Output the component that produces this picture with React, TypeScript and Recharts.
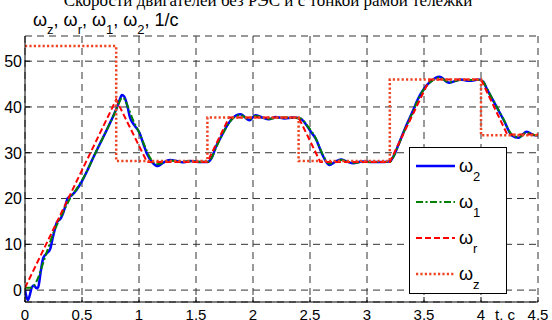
import React from 'react';
import { LineChart, Line, XAxis, YAxis, CartesianGrid, Legend } from 'recharts';

// ---- data ----
const xTicks = [0, 0.5, 1, 1.5, 2, 2.5, 3, 3.5, 4, 4.5];
const xTickLabels = ['0', '0.5', '1', '1.5', '2', '2.5', '3', '3.5', '4', '4.5'];
const yTicks = [0, 10, 20, 30, 40, 50];

// ω2 (motor 2 speed) [t, value]
const omega2: number[][] = [
  [0, 0], [0.013, -1.5], [0.026, -2.2], [0.045, -0.8], [0.06, 0.6], [0.08, 1.0], [0.1, 0.4], [0.115, 0.6],
  [0.14, 4.4], [0.16, 7.0], [0.19, 8.0], [0.22, 8.9], [0.245, 11.6], [0.28, 14.8], [0.315, 15.7], [0.34, 17.2],
  [0.376, 20.1], [0.41, 20.7], [0.45, 21.8], [0.5, 23.8], [0.55, 26.3], [0.6, 29], [0.65, 31.6], [0.7, 34.1],
  [0.75, 36.7], [0.8, 39.5], [0.83, 41.5], [0.85, 42.6], [0.87, 42.3], [0.9, 40], [0.92, 37.8], [0.96, 36],
  [1.005, 34.3], [1.04, 31.8], [1.075, 29.5], [1.12, 27.8], [1.165, 27.1], [1.21, 27.8], [1.27, 28.4],
  [1.33, 28.2], [1.38, 27.9], [1.45, 28.2], [1.52, 28], [1.6, 28], [1.64, 29], [1.675, 31.3], [1.72, 33.5],
  [1.76, 35.4], [1.82, 37.5], [1.89, 38.4], [1.97, 37.1], [2.02, 38.2], [2.08, 37.7], [2.14, 37.3], [2.2, 37.8],
  [2.28, 37.5], [2.35, 37.7], [2.42, 37.4], [2.47, 36], [2.51, 34.5], [2.55, 33.1], [2.61, 29.5], [2.67, 27.3],
  [2.72, 28], [2.77, 28.5], [2.83, 28], [2.88, 27.7], [2.95, 28.1], [3.05, 28], [3.15, 28], [3.2, 28.1],
  [3.23, 29.1], [3.28, 32], [3.34, 35.7], [3.4, 39], [3.45, 41.9], [3.5, 44], [3.555, 45.5], [3.635, 46.6],
  [3.72, 45.3], [3.82, 46], [3.9, 45.7], [3.98, 46], [4.02, 45.5], [4.05, 44], [4.12, 40.8], [4.2, 37.1],
  [4.27, 33.8], [4.33, 33.3], [4.4, 34.6], [4.47, 33.8], [4.5, 33.8],
];

// ω1 (motor 1 speed)
const omega1: number[][] = [
  [0, 0.5], [0.05, 0.5], [0.08, 1.0], [0.12, 3.0], [0.16, 6.0], [0.2, 9.0], [0.25, 12.5], [0.3, 15.3],
  [0.35, 17.8], [0.4, 20.2], [0.45, 22], [0.5, 24], [0.55, 26.3], [0.6, 29], [0.65, 31.6], [0.7, 34.1],
  [0.75, 36.7], [0.8, 39.4], [0.83, 41.2], [0.85, 42.0], [0.87, 41.8], [0.9, 40.2], [0.95, 37.0], [1.0, 34.5],
  [1.05, 31.5], [1.1, 28.8], [1.15, 27.5], [1.2, 27.7], [1.27, 28.3], [1.35, 28.1], [1.45, 28.1], [1.6, 28],
  [1.64, 29], [1.68, 31.3], [1.72, 33.4], [1.76, 35.3], [1.82, 37.4], [1.89, 38.2], [1.97, 37.3], [2.02, 38],
  [2.14, 37.4], [2.25, 37.7], [2.42, 37.5], [2.47, 36.1], [2.55, 33.2], [2.61, 29.7], [2.67, 27.6],
  [2.77, 28.4], [2.88, 27.8], [3.0, 28], [3.2, 28], [3.23, 29], [3.28, 31.9], [3.34, 35.5], [3.4, 38.8],
  [3.45, 41.7], [3.5, 43.9], [3.555, 45.4], [3.635, 46.4], [3.72, 45.4], [3.82, 45.9], [3.98, 45.9],
  [4.02, 45.5], [4.05, 44.1], [4.12, 40.9], [4.2, 37.2], [4.27, 34], [4.33, 33.4], [4.4, 34.4], [4.47, 33.9],
  [4.5, 33.8],
];

// ωr (ramp reference)
const omegaR: number[][] = [
  [0, 0.5], [0.8, 41.6], [1.07, 28], [1.6, 28], [1.79, 37.7], [2.4, 37.7], [2.59, 28], [3.2, 28],
  [3.55, 46], [4.0, 46], [4.23, 34], [4.5, 34],
];

// ωz (set point, steps)
const omegaZ: number[][] = [
  [0, 53.3], [0.8, 53.3], [0.8, 28.2], [1.6, 28.2], [1.6, 37.7], [2.4, 37.7], [2.4, 28.2], [3.2, 28.2],
  [3.2, 46], [4.0, 46], [4.0, 33.8], [4.5, 33.8],
];

const toRows = (arr: number[][]) => arr.map(([t, w]) => ({ t, w }));

const FONT = '"Liberation Sans", Arial, Helvetica, sans-serif';

const BLUE = '#0000ff';
const GREEN = '#008000';
const RED = '#ff0000';
const ORANGE = '#ee4422';

const BottomTick = (props: any) => {
  const { x, y, payload, index } = props;
  const ay = y - 7;
  return (
    <g>
      <line x1={x} x2={x} y1={ay} y2={ay - 5} stroke="#000" strokeWidth={1} />
      <text x={x} y={y} dy="0.72em" textAnchor="middle" fontFamily={FONT} fontSize={15} fill="#000">
        {xTickLabels[index] ?? String(payload.value)}
      </text>
    </g>
  );
};

const LeftTick = (props: any) => {
  const { x, y, payload } = props;
  const ax = x + 3;
  return (
    <g>
      <line x1={ax} x2={ax + 5} y1={y} y2={y} stroke="#000" strokeWidth={1} />
      <text x={x} y={y} dy="0.36em" textAnchor="end" fontFamily={FONT} fontSize={16} fill="#000">
        {payload.value}
      </text>
    </g>
  );
};

const TopTick = (props: any) => {
  const { x, y } = props;
  return <line x1={x} x2={x} y1={y} y2={y + 5} stroke="#000" strokeWidth={1} />;
};

const RightTick = (props: any) => {
  const { x, y } = props;
  return <line x1={x} x2={x - 5} y1={y} y2={y} stroke="#000" strokeWidth={1} />;
};

const legendItems = [
  { sub: '2', color: BLUE, dash: undefined as string | undefined, width: 2.5 },
  { sub: '1', color: GREEN, dash: '7 2.5 2 2.5', width: 2 },
  { sub: 'r', color: RED, dash: '6 3', width: 2 },
  { sub: 'z', color: ORANGE, dash: '2.2 2.2', width: 2.5 },
];

const LegendBox = () => (
  <svg width={98} height={147} style={{ display: 'block' }}>
    <rect x={0.5} y={0.5} width={97} height={146} fill="#fff" stroke="#000" strokeWidth={1} />
    {legendItems.map((it, i) => {
      const cy = 19 + i * 36;
      return (
        <g key={i}>
          <line x1={7} x2={46} y1={cy} y2={cy} stroke={it.color} strokeWidth={it.width} strokeDasharray={it.dash} />
          <text x={50} y={cy + 6} fontFamily={FONT} fontSize={18} fill="#000">
            ω
            <tspan fontSize={13} dy={9}>{it.sub}</tspan>
          </text>
        </g>
      );
    })}
  </svg>
);

export default function App() {
  return (
    <div style={{ position: 'absolute', left: 0, top: 0, width: 552, height: 320, background: '#fff', overflow: 'hidden' }}>
      <LineChart width={552} height={320} margin={{ top: 36, right: 14, bottom: 0, left: 0 }}>
        <CartesianGrid stroke="#333" strokeDasharray="7 5" strokeWidth={1} />
        <XAxis
          xAxisId={0}
          dataKey="t"
          type="number"
          domain={[0, 4.5]}
          ticks={xTicks}
          interval={0}
          height={18}
          tickSize={0}
          tickMargin={7}
          tick={<BottomTick />}
          axisLine={{ stroke: '#000', strokeWidth: 1 }}
          allowDataOverflow
        />
        <XAxis
          xAxisId="top"
          orientation="top"
          type="number"
          domain={[0, 4.5]}
          ticks={xTicks}
          interval={0}
          height={0}
          tickSize={0}
          tickMargin={0}
          tick={<TopTick />}
          axisLine={{ stroke: '#000', strokeWidth: 1 }}
          allowDataOverflow
        />
        <YAxis
          yAxisId={0}
          type="number"
          domain={[-2.6, 55.5]}
          ticks={yTicks}
          interval={0}
          width={25}
          tickSize={0}
          tickMargin={3}
          tick={<LeftTick />}
          axisLine={{ stroke: '#000', strokeWidth: 1 }}
          allowDataOverflow
        />
        <YAxis
          yAxisId="right"
          orientation="right"
          type="number"
          domain={[-2.6, 55.5]}
          ticks={yTicks}
          interval={0}
          width={0}
          tickSize={0}
          tickMargin={0}
          tick={<RightTick />}
          axisLine={{ stroke: '#000', strokeWidth: 1 }}
          allowDataOverflow
        />
        <Line data={toRows(omega2)} dataKey="w" type="monotone" stroke={BLUE} strokeWidth={2.5} dot={false} isAnimationActive={false} />
        <Line data={toRows(omega1)} dataKey="w" type="monotone" stroke={GREEN} strokeWidth={2} strokeDasharray="7 2.5 2 2.5" dot={false} isAnimationActive={false} />
        <Line data={toRows(omegaR)} dataKey="w" type="linear" stroke={RED} strokeWidth={2} strokeDasharray="6 3" dot={false} isAnimationActive={false} />
        <Line data={toRows(omegaZ)} dataKey="w" type="linear" stroke={ORANGE} strokeWidth={2.5} strokeDasharray="2.2 2.2" dot={false} isAnimationActive={false} />
        <Legend
          layout="horizontal"
          align="center"
          verticalAlign="middle"
          content={() => <LegendBox />}
          wrapperStyle={{ position: 'absolute', left: 409, top: 147, width: 98, height: 147, margin: 0, padding: 0 }}
        />
      </LineChart>
      <svg width={552} height={320} style={{ position: 'absolute', left: 0, top: 0, pointerEvents: 'none' }}>
        <text x={268} y={6} textAnchor="middle" fontFamily='"Liberation Serif", "Times New Roman", serif' fontSize={17} fill="#000">
          Скорости двигателей без РЭС и с тонкой рамой тележки
        </text>
        <text x={33} y={26} fontFamily={FONT} fontSize={18} fill="#000">
          ω<tspan fontSize={13} dy={8}>z</tspan>
          <tspan dy={-8}>, ω</tspan><tspan fontSize={13} dy={8}>r</tspan>
          <tspan dy={-8}>, ω</tspan><tspan fontSize={13} dy={8}>1</tspan>
          <tspan dy={-8}>, ω</tspan><tspan fontSize={13} dy={8}>2</tspan>
          <tspan dy={-8}>, 1/c</tspan>
        </text>
        <text x={495} y={309} dy="0.72em" fontFamily={FONT} fontSize={15} fill="#000">
          t, c
        </text>
      </svg>
    </div>
  );
}
